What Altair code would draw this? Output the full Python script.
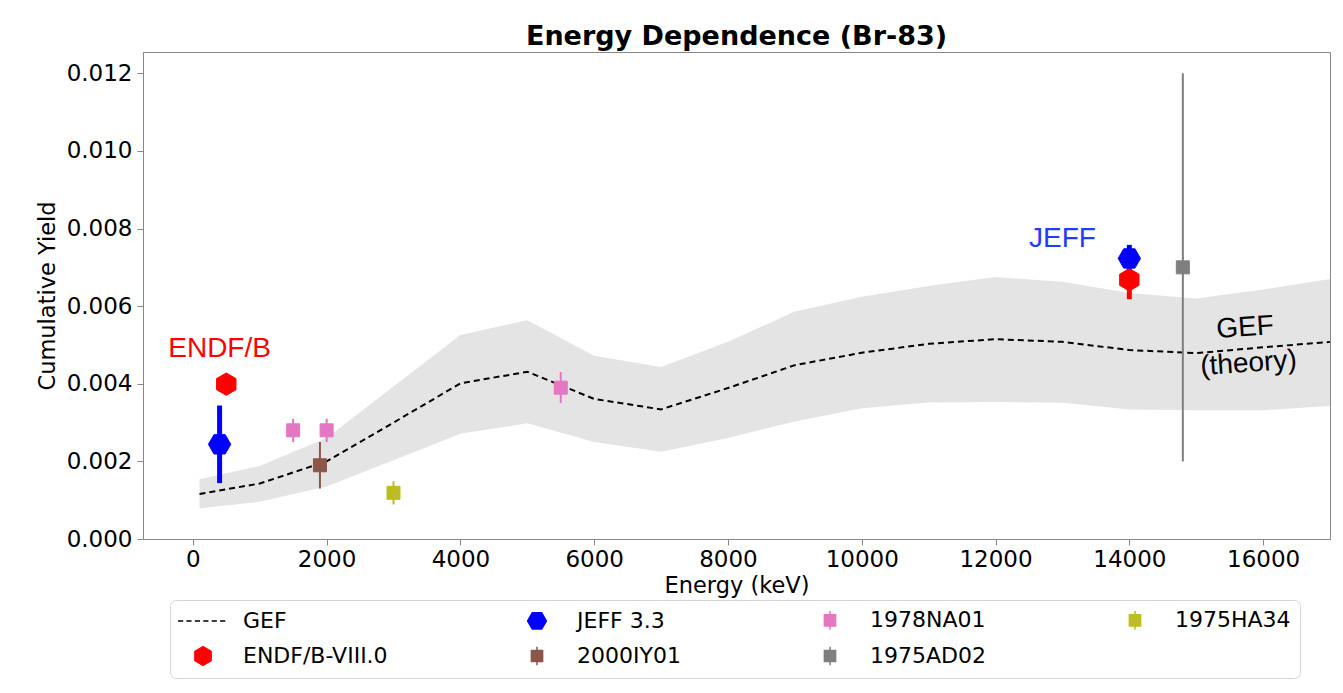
import altair as alt
import pandas as pd

# ---------------- data ----------------
gef_energy = [100, 1000, 2000, 3000, 4000, 5000, 6000, 7000, 8000, 9000,
              10000, 11000, 12000, 13000, 14000, 15000, 16000, 17000]
gef_yield = [0.00116, 0.00143, 0.00200, 0.00300, 0.00401, 0.00431, 0.00361, 0.00334, 0.00389,
             0.00448, 0.00480, 0.00503, 0.00515, 0.00508, 0.00487, 0.00479, 0.00494, 0.00508]
gef_low = [0.00079, 0.00096, 0.00135, 0.00203, 0.00271, 0.00298, 0.00250, 0.00225, 0.00260,
           0.00303, 0.00337, 0.00352, 0.00353, 0.00351, 0.00334, 0.00332, 0.00332, 0.00343]
gef_high = [0.00154, 0.00188, 0.00260, 0.00393, 0.00526, 0.00564, 0.00472, 0.00443, 0.00508,
            0.00586, 0.00624, 0.00652, 0.00675, 0.00663, 0.00634, 0.00620, 0.00643, 0.00670]

pt_series = ["ENDF/B-VIII.0", "ENDF/B-VIII.0", "JEFF 3.3", "JEFF 3.3",
             "1978NA01", "1978NA01", "1978NA01", "2000IY01", "1975AD02", "1975HA34"]
pt_energy = [500, 14000, 400, 14000, 1500, 2000, 5500, 1900, 14800, 3000]
pt_yield = [0.00399, 0.00668, 0.00244, 0.00723, 0.00280, 0.00280, 0.00390, 0.00190, 0.00700, 0.00119]
pt_err = [0.0001, 0.0005, 0.0010, 0.00035, 0.0003, 0.0003, 0.0004, 0.0006, 0.0050, 0.0003]

legend_order = ["GEF", "ENDF/B-VIII.0", "JEFF 3.3", "2000IY01",
                "1978NA01", "1975AD02", "1975HA34"]
legend_colors = ["#000000", "#ff0000", "#0000ff", "#8c564b",
                 "#e377c2", "#7f7f7f", "#bcbd22"]

ann_text = ["ENDF/B", "JEFF", "GEF", "(theory)"]
ann_x = [400, 13000, 15740, 15790]
ann_y = [0.00470, 0.00753, 0.00523, 0.00431]
ann_color = ["#ff0000", "#1f3cff", "#000000", "#000000"]
ann_angle = [0, 0, 356, 356]

# ---------------- shapes ----------------
HEX1 = "M0,-1L0.866,-0.5L0.866,0.5L0,1L-0.866,0.5L-0.866,-0.5Z"
HEX2 = "M-1,0L-0.5,-0.866L0.5,-0.866L1,0L0.5,0.866L-0.5,0.866Z"
SQ = "M-0.6,-0.6H0.6V0.6H-0.6Z M0,-0.6V-1 M0,0.6V1"
DASH = "".join(f"M{-2.67 + k * 0.9:.2f},0H{-2.67 + k * 0.9 + 0.55:.2f}" for k in range(6))
shape_map = {"GEF": DASH, "JEFF 3.3": HEX2, "ENDF/B-VIII.0": HEX1}
legend_shapes = [shape_map.get(s, SQ) for s in legend_order]
color_map = dict(zip(legend_order, legend_colors))

gef_df = pd.DataFrame({"energy": gef_energy, "gef": gef_yield, "low": gef_low, "high": gef_high})
pts_df = pd.DataFrame({"series": pt_series, "energy": pt_energy, "yld": pt_yield, "err": pt_err})
pts_df["lo"] = pts_df["yld"] - pts_df["err"]
pts_df["hi"] = pts_df["yld"] + pts_df["err"]
pts_df["clr"] = pts_df["series"].map(color_map)

xscale = alt.Scale(domain=[-745, 17000], nice=False, zero=False)
yscale = alt.Scale(domain=[0, 0.01255], nice=False)
color_scale = alt.Scale(domain=legend_order, range=legend_colors)
shape_scale = alt.Scale(domain=legend_order, range=legend_shapes)

xaxis = alt.Axis(values=list(range(0, 16001, 2000)), format="d", title="Energy (keV)",
                 titlePadding=3, labelPadding=3)
yaxis = alt.Axis(values=[0, 0.002, 0.004, 0.006, 0.008, 0.010, 0.012], format=".3f",
                 title="Cumulative Yield", titlePadding=7, labelPadding=5)

X = alt.X("energy:Q", scale=xscale, axis=xaxis)

band = alt.Chart(gef_df).mark_area(color="#e4e4e4", opacity=1).encode(
    x=X, y=alt.Y("low:Q", scale=yscale, axis=yaxis), y2="high:Q")
line = alt.Chart(gef_df).mark_line(color="black", strokeDash=[6, 4], strokeWidth=2).encode(
    x="energy:Q", y="gef:Q")

libs = ["ENDF/B-VIII.0", "JEFF 3.3"]
is_lib = alt.FieldOneOfPredicate(field="series", oneOf=libs)
not_lib = {"not": is_lib}

def rules(pred, width):
    return alt.Chart(pts_df).transform_filter(pred).mark_rule(strokeWidth=width).encode(
        x="energy:Q", y="lo:Q", y2="hi:Q",
        color=alt.Color("clr:N", scale=None))

def points(pred, size):
    return alt.Chart(pts_df).transform_filter(pred).mark_point(
        filled=True, size=size, opacity=1, strokeWidth=1).encode(
        x="energy:Q", y="yld:Q",
        fill=alt.Fill("series:N", scale=color_scale, title=None),
        stroke=alt.Stroke("series:N", scale=color_scale, title=None),
        shape=alt.Shape("series:N", scale=shape_scale, title=None))

texts = []
for t, xv, yv, c, a in zip(ann_text, ann_x, ann_y, ann_color, ann_angle):
    d = pd.DataFrame({"energy": [xv], "y": [yv], "t": [t]})
    texts.append(alt.Chart(d).mark_text(font="Liberation Sans", fontSize=28, color=c,
                                        align="center", baseline="alphabetic", angle=a)
                 .encode(x="energy:Q", y="y:Q", text="t:N"))

chart = alt.layer(
    band, line,
    rules(not_lib, 2), points(not_lib, 470),
    rules(is_lib, 5), points(is_lib, 500),
    *texts
).properties(
    width=1187, height=487,
    title=alt.Title("Energy Dependence (Br-83)", font="DejaVu Sans", fontSize=27,
                    fontWeight="bold", anchor="middle", offset=1, color="black"),
    autosize=alt.AutoSizeParams(type="none"),
    padding={"left": 135, "top": 44, "right": 5, "bottom": 141},
).configure_view(
    stroke="#888888", strokeWidth=1
).configure_axis(
    grid=False, domainColor="#888888", tickColor="#888888", tickSize=6,
    labelFont="DejaVu Sans", labelFontSize=23, labelColor="black",
    titleFont="DejaVu Sans", titleFontSize=22.5, titleFontWeight="normal", titleColor="black"
).configure_legend(
    orient="none", legendX=27, legendY=548, columns=4,
    symbolSize=350, symbolStrokeWidth=1.5, symbolOffset=13,
    labelFont="DejaVu Sans", labelFontSize=22, labelColor="black", labelOffset=29,
    columnPadding=125, rowPadding=10, padding=9,
    strokeColor="#d5d5d5", cornerRadius=6, fillColor="white"
)

chart.save("out.html", embed_options={"renderer": "svg", "actions": False})
